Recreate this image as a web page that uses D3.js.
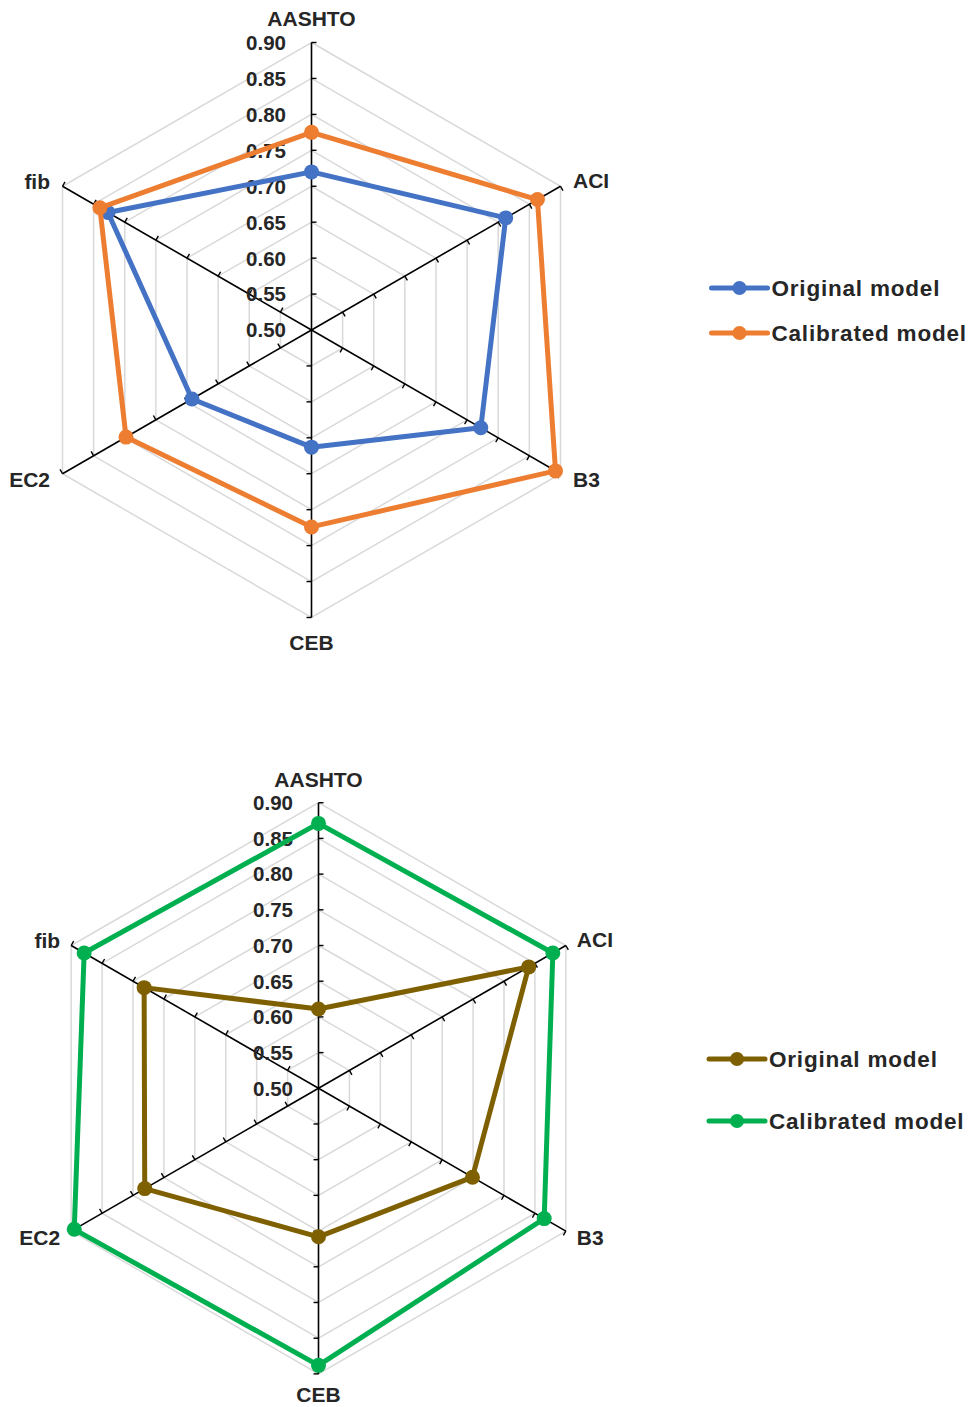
<!DOCTYPE html>
<html>
<head>
<meta charset="utf-8">
<script src="https://cdn.jsdelivr.net/npm/d3@7/dist/d3.min.js"></script>
<style>
  html, body { margin: 0; padding: 0; background: #ffffff; }
  svg { display: block; }
  text { font-family: "Liberation Sans", Arial, sans-serif; font-weight: bold; fill: #262626; }
</style>
</head>
<body>
<svg id="chart" width="974" height="1407"></svg>
<script>
// ---- data ----
const categories = ["AASHTO", "ACI", "B3", "CEB", "EC2", "fib"];
const tickValues = [0.50, 0.55, 0.60, 0.65, 0.70, 0.75, 0.80, 0.85, 0.90];
const seriesNames = ["Original model", "Calibrated model"];

const topOriginal   = [0.720, 0.812, 0.772, 0.663, 0.692, 0.827];
const topCalibrated = [0.775, 0.863, 0.892, 0.774, 0.798, 0.840];

const bottomOriginal   = [0.611, 0.840, 0.749, 0.708, 0.781, 0.782];
const bottomCalibrated = [0.871, 0.879, 0.865, 0.888, 0.895, 0.879];

const topColors = ["#4472C4", "#ED7D31"];
const bottomColors = ["#7F6000", "#00B050"];

// ---- drawing ----
const svg = d3.select("#chart");

function radar(cfg) {
  const g = svg.append("g").attr("transform", `translate(${cfg.cx},${cfg.cy})`);
  const r = d3.scaleLinear().domain([0.5, 0.9]).range([0, cfg.R]);
  const n = categories.length;
  const ang = d3.scalePoint().domain(categories).range([0, 2 * Math.PI * (n - 1) / n]);
  const pt = (cat, v) => {
    const a = ang(cat);
    return [r(v) * Math.sin(a), -r(v) * Math.cos(a)];
  };

  // grid rings
  const levels = tickValues.slice(1);
  g.selectAll("path.ring").data(levels).enter().append("path")
    .attr("class", "ring")
    .attr("d", v => d3.line()(categories.map(c => pt(c, v))) + "Z")
    .attr("fill", "none").attr("stroke", "#d9d9d9").attr("stroke-width", 1.5);

  // spokes
  g.selectAll("line.spoke").data(categories).enter().append("line")
    .attr("class", "spoke")
    .attr("x1", 0).attr("y1", 0)
    .attr("x2", c => pt(c, 0.9)[0]).attr("y2", c => pt(c, 0.9)[1])
    .attr("stroke", "#000").attr("stroke-width", 1.6);

  // tick marks on spokes (clockwise side)
  const tl = 5;
  categories.forEach(c => {
    const a = ang(c);
    const px = Math.cos(a), py = Math.sin(a); // clockwise perpendicular
    g.selectAll(null).data(levels).enter().append("line")
      .attr("x1", v => pt(c, v)[0]).attr("y1", v => pt(c, v)[1])
      .attr("x2", v => pt(c, v)[0] + px * tl).attr("y2", v => pt(c, v)[1] + py * tl)
      .attr("stroke", "#000").attr("stroke-width", 1.4);
  });

  // tick labels
  g.selectAll("text.tick").data(tickValues).enter().append("text")
    .attr("class", "tick")
    .attr("x", -25.5).attr("y", v => -r(v)).attr("dy", "0.36em")
    .attr("text-anchor", "end").attr("font-size", 20.5)
    .text(v => d3.format(".2f")(v));

  // category labels
  const labelPos = {
    "AASHTO": {dx: 0, dy: -cfg.tt, anchor: "middle"},
    "ACI": {dx: cfg.side, dy: -6, anchor: "start"},
    "B3": {dx: cfg.side, dy: 6, anchor: "start"},
    "CEB": {dx: 0, dy: cfg.tb, anchor: "middle"},
    "EC2": {dx: -cfg.side, dy: 6, anchor: "end"},
    "fib": {dx: -cfg.side, dy: -5, anchor: "end"}
  };
  g.selectAll("text.cat").data(categories).enter().append("text")
    .attr("class", "cat")
    .attr("x", c => pt(c, 0.9)[0] + labelPos[c].dx)
    .attr("y", c => pt(c, 0.9)[1] + labelPos[c].dy)
    .attr("dy", "0.36em")
    .attr("text-anchor", c => labelPos[c].anchor)
    .attr("font-size", 21)
    .text(c => c);

  // series
  cfg.series.forEach((vals, i) => {
    const pts = categories.map((c, k) => pt(c, vals[k]));
    g.append("path")
      .attr("d", d3.line()(pts) + "Z")
      .attr("fill", "none").attr("stroke", cfg.colors[i])
      .attr("stroke-width", 5).attr("stroke-linejoin", "round");
    g.selectAll(null).data(pts).enter().append("circle")
      .attr("cx", d => d[0]).attr("cy", d => d[1]).attr("r", 7.5)
      .attr("fill", cfg.colors[i]);
  });

  // legend
  const lg = svg.append("g");
  seriesNames.forEach((name, i) => {
    const y = cfg.legendY[i];
    lg.append("line")
      .attr("x1", cfg.legendX).attr("x2", cfg.legendX + 56)
      .attr("y1", y).attr("y2", y)
      .attr("stroke", cfg.colors[i]).attr("stroke-width", 5).attr("stroke-linecap", "round");
    lg.append("circle").attr("cx", cfg.legendX + 28).attr("cy", y).attr("r", 7).attr("fill", cfg.colors[i]);
    lg.append("text")
      .attr("x", cfg.legendX + 60).attr("y", y).attr("dy", "0.36em")
      .attr("font-size", 22.5).attr("letter-spacing", "0.8px")
      .text(name);
  });
}

radar({cx: 311.5, cy: 330, R: 287.5, series: [topOriginal, topCalibrated], colors: topColors,
       tt: 24.5, tb: 24.5, side: 12.5, legendX: 711.5, legendY: [288, 333]});
radar({cx: 318.5, cy: 1088.3, R: 285.6, series: [bottomOriginal, bottomCalibrated], colors: bottomColors,
       tt: 23.5, tb: 20.5, side: 11, legendX: 709, legendY: [1059, 1121]});
</script>
</body>
</html>
